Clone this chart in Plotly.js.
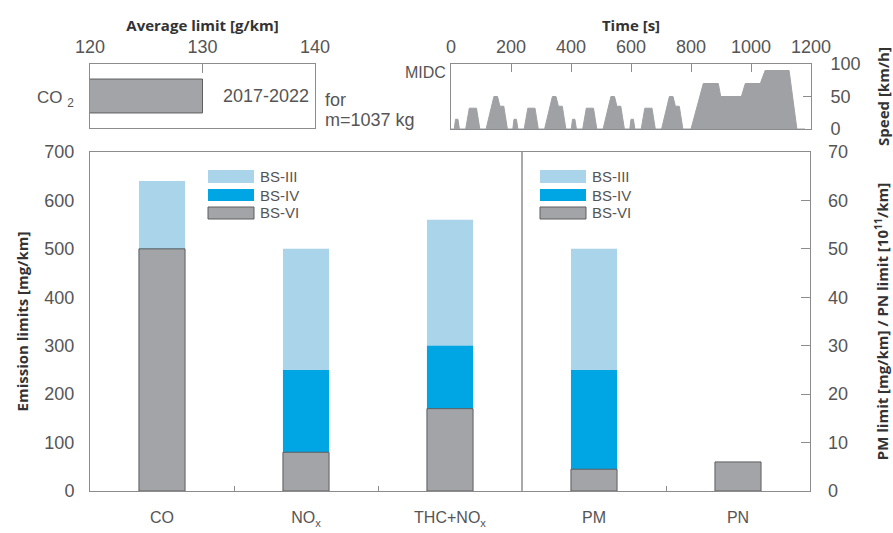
<!DOCTYPE html>
<html>
<head>
<meta charset="utf-8">
<script src="https://cdn.plot.ly/plotly-3.0.1.min.js"></script>
<style>html,body{margin:0;padding:0;background:#fff;}#chart{width:893px;height:533px;}</style>
</head>
<body>
<div id="chart"></div>
<script>
// ---- data ----
const categories = ['CO', 'NO<sub>x</sub>', 'THC+NO<sub>x</sub>', 'PM', 'PN'];
const catPos = [0, 1, 2, 3, 4];
// mg/km limits for CO, NOx, THC+NOx (left axis)
const gasCats = [0, 1, 2];
const bs3Gas = [640, 500, 560];
const bs4Gas = [500, 250, 300];
const bs6Gas = [500, 80, 170];
// PM [mg/km] and PN [10^11/km] (right axis)
const partCats = [3, 4];
const bs3Part = [50, null];
const bs4Part = [25, null];
const bs6Part = [4.5, 6];
// CO2 average limit
const co2Label = ['CO <sub>2</sub>'];
const co2Limit = [130];
const co2Period = '2017-2022';
// MIDC speed profile (time s, speed km/h)
const midcTime = [0,11,15,23,28,49,61,85,96,117,143,155,163,176,188,
  195,206,210,218,223,244,256,280,291,312,338,350,358,371,383,
  390,401,405,413,418,439,451,475,486,507,533,545,553,566,578,
  585,596,600,608,613,634,646,670,681,702,728,740,748,761,773,
  780,800,841,891,899,968,981,1031,1047,1127,1153,1180];
const midcSpeed = [0,0,15,15,0,0,32,32,0,0,50,50,35,35,0,
  0,0,15,15,0,0,32,32,0,0,50,50,35,35,0,
  0,0,15,15,0,0,32,32,0,0,50,50,35,35,0,
  0,0,15,15,0,0,32,32,0,0,50,50,35,35,0,
  0,0,70,70,50,50,70,70,90,90,0,0];
const legendNames = ['BS-III', 'BS-IV', 'BS-VI'];

// ---- styles ----
const cLight = '#a9d4ea', cBlue = '#00a6e4', cGray = '#a2a4a7', cEdge = '#5e5e5e';
const axisCol = '#8c8c8c', txt = '#555555';
const FONT = '"Liberation Sans", Arial, sans-serif';
const TFONT = '"Open Sans", "Liberation Sans", sans-serif';
const W = 893, H = 533;
const px = v => v / W, py = v => 1 - v / H;
const bw = 0.32;

const traces = [
  {type:'bar', x: gasCats, y: bs3Gas, width: bw, marker:{color:cLight, line:{width:0}}, xaxis:'x', yaxis:'y', name:'BS-III', showlegend:false, hoverinfo:'y'},
  {type:'bar', x: gasCats, y: bs4Gas, width: bw, marker:{color:cBlue, line:{width:0}}, xaxis:'x', yaxis:'y', name:'BS-IV', showlegend:false, hoverinfo:'y'},
  {type:'bar', x: gasCats, y: bs6Gas, width: bw, marker:{color:cGray, line:{width:1, color:cEdge}}, xaxis:'x', yaxis:'y', name:'BS-VI', showlegend:false, hoverinfo:'y'},
  {type:'bar', x: partCats, y: bs3Part, width: bw, marker:{color:cLight, line:{width:0}}, xaxis:'x', yaxis:'y2', name:'BS-III', showlegend:false, hoverinfo:'y'},
  {type:'bar', x: partCats, y: bs4Part, width: bw, marker:{color:cBlue, line:{width:0}}, xaxis:'x', yaxis:'y2', name:'BS-IV', showlegend:false, hoverinfo:'y'},
  {type:'bar', x: partCats, y: bs6Part, width: bw, marker:{color:cGray, line:{width:1, color:cEdge}}, xaxis:'x', yaxis:'y2', name:'BS-VI', showlegend:false, hoverinfo:'y'},
  {type:'bar', orientation:'h', y:[0], x: co2Limit, width:0.53, marker:{color:cGray, line:{width:1, color:cEdge}}, xaxis:'x2', yaxis:'y3', showlegend:false, hoverinfo:'x'},
  {type:'scatter', mode:'lines', x: midcTime, y: midcSpeed, fill:'tozeroy', fillcolor:'#9fa1a4', line:{color:'#9fa1a4', width:1}, xaxis:'x3', yaxis:'y4', showlegend:false, hoverinfo:'x+y'}
];

const tickFont = {family: FONT, size: 18, color: txt};
const titleFont = {family: TFONT, size: 15, color: '#333', weight: 'bold'};

const shapes = [
  {type:'line', xref:'x', yref:'y domain', x0:2.5, x1:2.5, y0:0, y1:1, line:{color:'#555', width:1}}
];
const annotations = [];
const legY = [[170,183],[189,201],[207,219]];
const legCols = [cLight, cBlue, cGray];
[208, 540].forEach(x0 => {
  legY.forEach((r, i) => {
    shapes.push({type:'rect', xref:'paper', yref:'paper', x0:px(x0), x1:px(x0+46), y0:py(r[1]), y1:py(r[0]),
      fillcolor: legCols[i], line: i === 2 ? {color:cEdge, width:1} : {width:0}});
    annotations.push({xref:'paper', yref:'paper', x:px(x0+50), y:py((r[0]+r[1])/2), text: legendNames[i],
      showarrow:false, xanchor:'left', yanchor:'middle', font:{family:FONT, size:15, color:txt}});
  });
});
annotations.push(
  {xref:'x2', yref:'y3', x:139.6, y:0, text: co2Period, showarrow:false, xanchor:'right', yanchor:'middle', font:{family:FONT, size:18, color:txt}},
  {xref:'paper', yref:'paper', x:px(76), y:py(99), text: co2Label[0], showarrow:false, xanchor:'right', yanchor:'middle', font:{family:FONT, size:17, color:txt}},
  {xref:'paper', yref:'paper', x:px(323), y:py(100), text:'for', showarrow:false, xanchor:'left', yanchor:'middle', font:{family:FONT, size:18, color:txt}},
  {xref:'paper', yref:'paper', x:px(323), y:py(120), text:'m=1037 kg', showarrow:false, xanchor:'left', yanchor:'middle', font:{family:FONT, size:18, color:txt}},
  {xref:'paper', yref:'paper', x:px(448), y:py(73), text:'MIDC', showarrow:false, xanchor:'right', yanchor:'middle', font:{family:FONT, size:16, color:txt}}
);

const layout = {
  width: W, height: H,
  margin: {l:0, r:0, t:0, b:0},
  paper_bgcolor: '#fff', plot_bgcolor: 'rgba(0,0,0,0)',
  font: {family: FONT, color: txt},
  barmode: 'overlay',
  showlegend: false,
  xaxis: {domain:[px(90), px(810)], anchor:'y', range:[-0.5, 4.5], tickmode:'array', tickvals: catPos, ticktext: categories,
    ticks:'', showline:true, mirror:true, linecolor:axisCol, linewidth:1, showgrid:false, zeroline:false,
    tickfont: {family: FONT, size: 16, color: txt}, ticklabelstandoff: 12,
    minor: {tickmode:'array', tickvals:[0.5, 1.5, 3.5], ticks:'inside', ticklen:5, tickcolor:axisCol, showgrid:false}},
  yaxis: {domain:[py(491), py(152)], anchor:'x', range:[0, 700], dtick:100, ticks:'', showline:true, mirror:true,
    linecolor:axisCol, showgrid:false, zeroline:false, tickfont: tickFont, ticklabelstandoff: 11,
    title:{text:'Emission limits [mg/km]', font:titleFont, standoff: 12}},
  yaxis2: {overlaying:'y', side:'right', anchor:'x', range:[0, 70], dtick:10, ticks:'inside', ticklen:9, tickcolor:axisCol,
    showline:false, showgrid:false, zeroline:false, tickfont: tickFont, ticklabelstandoff: 17,
    title:{text:'PM limit [mg/km] / PN limit [10<sup>11</sup>/km]', font:titleFont, standoff: 30}},
  xaxis2: {domain:[px(90), px(315)], anchor:'y3', side:'top', range:[120, 140], tickmode:'array', tickvals:[120,130,140],
    ticks:'inside', ticklen:9, tickcolor:axisCol, showline:true, mirror:true, linecolor:axisCol, showgrid:false, zeroline:false,
    tickfont: tickFont, ticklabelstandoff: 3, title:{text:'Average limit [g/km]', font:titleFont, standoff: 1}},
  yaxis3: {domain:[py(128), py(64)], anchor:'x2', range:[-0.5, 0.5], showticklabels:false, ticks:'', showline:true, mirror:true,
    linecolor:axisCol, showgrid:false, zeroline:false},
  xaxis3: {domain:[px(451), px(811)], anchor:'y4', side:'top', range:[0, 1200], dtick:200,
    ticks:'inside', ticklen:8, tickcolor:axisCol, showline:true, mirror:true, linecolor:axisCol, showgrid:false, zeroline:false,
    tickfont: tickFont, ticklabelstandoff: 3, title:{text:'Time [s]', font:titleFont, standoff: 1}},
  yaxis4: {domain:[py(129), py(64)], anchor:'x3', side:'right', range:[0, 100], tickmode:'array', tickvals:[0,50,100],
    ticks:'inside', ticklen:8, tickcolor:axisCol, showline:true, mirror:true, linecolor:axisCol, showgrid:false, zeroline:false,
    tickfont: tickFont, ticklabelstandoff: 15, title:{text:'Speed [km/h]', font:titleFont, standoff: 20}},
  shapes: shapes,
  annotations: annotations
};

Plotly.newPlot('chart', traces, layout, {displayModeBar:false, staticPlot:true});
</script>
</body>
</html>
